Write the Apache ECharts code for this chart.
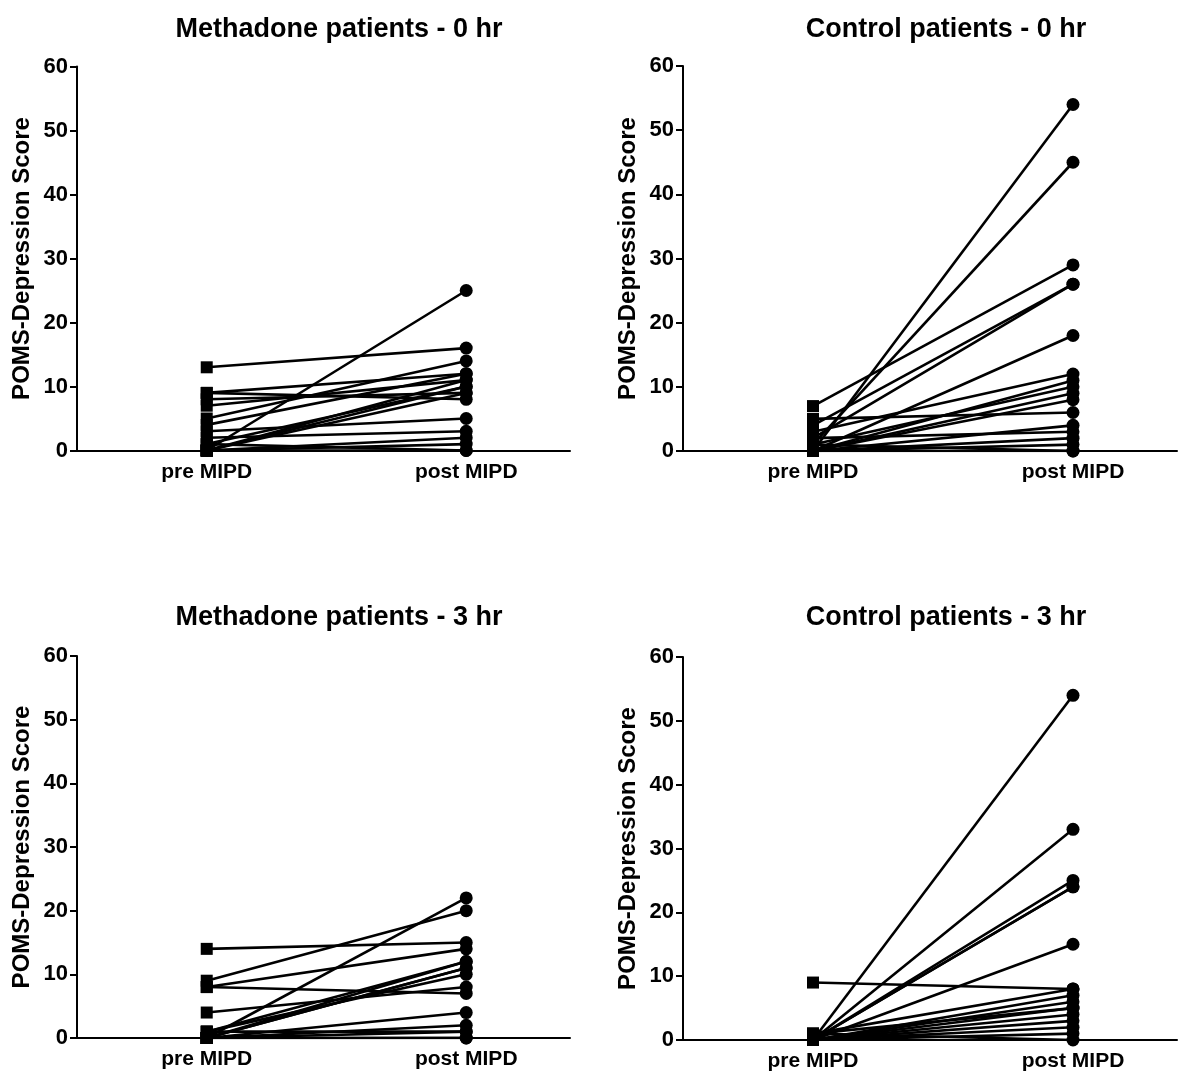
<!DOCTYPE html>
<html>
<head>
<meta charset="utf-8">
<title>POMS-Depression Score before and after MIPD</title>
<script src="https://cdn.jsdelivr.net/npm/echarts@6/dist/echarts.min.js"></script>
<style>
  html, body { margin: 0; padding: 0; background: #fff; }
  #chart { width: 1181px; height: 1075px; }
</style>
</head>
<body>
<div id="chart"></div>
<script>
// Paired scores: pre[i] and post[i] belong to the same patient.
const xTickLabels = ['pre MIPD', 'post MIPD'];
const yTicks = [0, 10, 20, 30, 40, 50, 60];

const methadone0Pre  = [13, 0, 9, 9, 8, 5, 4, 3, 7, 2, 1, 0, 0, 0, 0, 0, 1, 0];
const methadone0Post = [16, 25, 8, 12, 9, 14, 12, 5, 11, 3, 10, 11, 9, 10, 2, 1, 0, 0];

const control0Pre  = [0, 1, 7, 4, 2, 0, 5, 3, 0, 1, 0, 0, 0, 2, 0, 0, 0, 1];
const control0Post = [54, 45, 29, 26, 26, 18, 6, 12, 11, 10, 9, 8, 4, 3, 2, 1, 0, 0];

const methadone3Pre  = [14, 9, 8, 8, 4, 0, 1, 0, 0, 1, 0, 0, 0, 0, 1, 0, 0];
const methadone3Post = [15, 20, 14, 7, 8, 22, 12, 11, 11, 10, 12, 4, 2, 1, 1, 0, 0];

const control3Pre  = [9, 0, 0, 0, 0, 0, 1, 0, 0, 0, 1, 0, 0, 0, 0, 1, 0];
const control3Post = [8, 54, 33, 25, 24, 15, 8, 7, 6, 5, 5, 4, 3, 2, 1, 0, 24];

const panelTitles = [
  'Methadone patients - 0 hr',
  'Control patients - 0 hr',
  'Methadone patients - 3 hr',
  'Control patients - 3 hr'
];
const panelData = [
  [methadone0Pre, methadone0Post],
  [control0Pre, control0Post],
  [methadone3Pre, methadone3Post],
  [control3Pre, control3Post]
];

// Plot areas in pixels: [left, top, width, height]
const panelBoxes = [
  [77, 66.5, 493, 384],
  [683, 66, 494, 385],
  [77, 656, 493, 382],
  [683, 657, 494, 383]
];
const titleCenters = [[334, 11], [941, 11], [334, 599], [941, 599]];

const FONT = '"Liberation Sans", Arial, Helvetica, sans-serif';
const INK = '#000';

const chart = echarts.init(document.getElementById('chart'), null, { renderer: 'canvas' });

const grids = [], xAxes = [], yAxes = [], titles = [], series = [];

panelBoxes.forEach((b, p) => {
  grids.push({ left: b[0], top: b[1], width: b[2], height: b[3], containLabel: false });

  titles.push({
    text: panelTitles[p],
    left: titleCenters[p][0],
    top: titleCenters[p][1],
    textAlign: 'center',
    textStyle: { fontFamily: FONT, fontWeight: 'bold', fontSize: 27, color: INK }
  });

  xAxes.push({
    type: 'value',
    gridIndex: p,
    min: 0.5,
    max: 2.4,
    splitLine: { show: false },
    axisLine: { show: true, onZero: false, lineStyle: { color: INK, width: 2 } },
    axisTick: {
      show: true, inside: false, length: 6, customValues: [1, 2],
      lineStyle: { color: INK, width: 2 }
    },
    axisLabel: {
      customValues: [1, 2],
      formatter: v => xTickLabels[Math.round(v) - 1],
      fontFamily: FONT, fontWeight: 'bold', fontSize: 21, color: INK, margin: 11
    }
  });

  yAxes.push({
    type: 'value',
    gridIndex: p,
    min: 0,
    max: 60,
    interval: 10,
    name: 'POMS-Depression Score',
    nameLocation: 'middle',
    nameGap: 43,
    nameTextStyle: { fontFamily: FONT, fontWeight: 'bold', fontSize: 24, color: INK },
    splitLine: { show: false },
    axisLine: { show: true, lineStyle: { color: INK, width: 2 } },
    axisTick: { show: true, inside: false, length: 7, lineStyle: { color: INK, width: 2 } },
    axisLabel: {
      formatter: v => (yTicks.indexOf(v) >= 0 ? String(v) : ''),
      fontFamily: FONT, fontWeight: 'bold', fontSize: 22, color: INK, margin: 9
    }
  });

  const pre = panelData[p][0];
  const post = panelData[p][1];
  pre.forEach((v, i) => {
    series.push({
      type: 'line',
      xAxisIndex: p,
      yAxisIndex: p,
      silent: true,
      animation: false,
      z: 5,
      lineStyle: { color: INK, width: 2.6 },
      itemStyle: { color: INK, borderWidth: 0 },
      showSymbol: true,
      data: [
        { value: [1, v], symbol: 'rect', symbolSize: 12 },
        { value: [2, post[i]], symbol: 'circle', symbolSize: 13 }
      ]
    });
  });
});

chart.setOption({
  backgroundColor: '#fff',
  animation: false,
  title: titles,
  grid: grids,
  xAxis: xAxes,
  yAxis: yAxes,
  series: series
});
</script>
</body>
</html>
